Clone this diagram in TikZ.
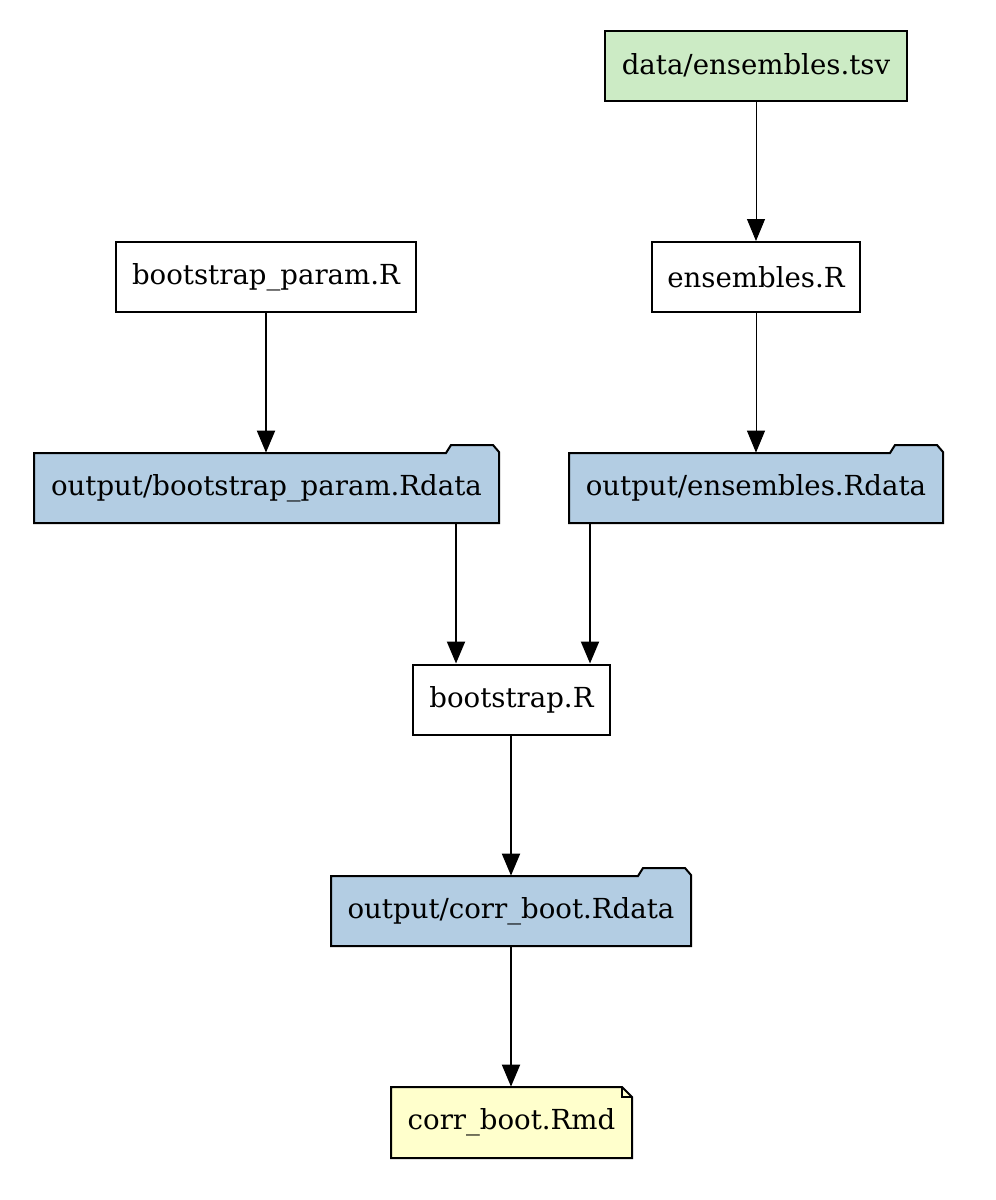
\documentclass[tikz,border=0pt]{standalone}
\usepackage{fontspec}
\setmainfont{DejaVu Serif}
\usetikzlibrary{arrows.meta,calc}
\definecolor{gvgreen}{HTML}{CCEBC5}
\definecolor{gvblue}{HTML}{B3CDE3}
\definecolor{gvyellow}{HTML}{FFFFCC}
\tikzset{
  lbl/.style={font=\fontsize{13.8}{16}\selectfont, inner sep=0pt, anchor=center},
  boxnode/.style={lbl, draw=black, line width=1pt, rectangle, minimum height=35pt},
  edge/.style={line width=1pt, -{Triangle[length=11pt,width=9pt]}},
  thinedge/.style={line width=0.5pt, -{Triangle[length=11pt,width=9pt]}},
  outline/.style={draw=black, line width=1pt, line join=miter},
}
\newcommand\folderat[5]{% name, x1, y1(body top), x2, y2
  \filldraw[outline, fill=gvblue] (#2,#5) -- (#2,#3) -- (#4-53,#3) -- (#4-48,#3-8) -- (#4-6,#3-8) -- (#4,#3-1) -- (#4,#5) -- cycle;
}
\begin{document}
\begin{tikzpicture}[x=0.5pt,y=-0.5pt]
\useasboundingbox (0,0) rectangle (996,1200);

% plain boxes
\node[boxnode, fill=gvgreen, minimum width=151pt] (tsv) at (756,65.5) {data/ensembles.tsv};
\node[boxnode, fill=white, minimum width=150pt] (bpR) at (266,277) {bootstrap\_param.R};
\node[boxnode, fill=white, minimum width=104pt] (ensR) at (756,277) {ensembles.R};
\node[boxnode, fill=white, minimum width=98.5pt] (bR) at (511.5,699.5) {bootstrap.R};

% folders
\folderat{bpRd}{34}{453}{499}{523}
\node[lbl, minimum width=232.5pt, minimum height=35pt] (bpRd) at (266.5,488) {output/bootstrap\_param.Rdata};
\folderat{ensRd}{569}{453}{943}{523}
\node[lbl, minimum width=187pt, minimum height=35pt] (ensRd) at (756,488) {output/ensembles.Rdata};
\folderat{cbRd}{331}{876}{691}{946}
\node[lbl, minimum width=180pt, minimum height=35pt] (cbRd) at (511,911) {output/corr\_boot.Rdata};

% note
\filldraw[outline, fill=gvyellow] (391,1158) -- (391,1087) -- (622,1087) -- (632,1097) -- (632,1158) -- cycle;
\draw[line width=1pt] (622,1087) -- (622,1097) -- (632,1097);
\node[lbl, minimum width=120.5pt, minimum height=35.5pt] (rmd) at (511.5,1122.5) {corr\_boot.Rmd};

% edges
\draw[thinedge] (tsv.south) -- (tsv.south |- ensR.north);
\draw[edge] (bpR.south) -- (bpR.south |- bpRd.north);
\draw[thinedge] (ensR.south) -- (ensR.south |- ensRd.north);
\draw[edge] (bpRd.south -| 456,0) -- (bR.north -| 456,0);
\draw[edge] (ensRd.south -| 590,0) -- (bR.north -| 590,0);
\draw[edge] (cbRd.north |- bR.south) -- (cbRd.north);
\draw[edge] (cbRd.south) -- (cbRd.south |- rmd.north);
\end{tikzpicture}
\end{document}
